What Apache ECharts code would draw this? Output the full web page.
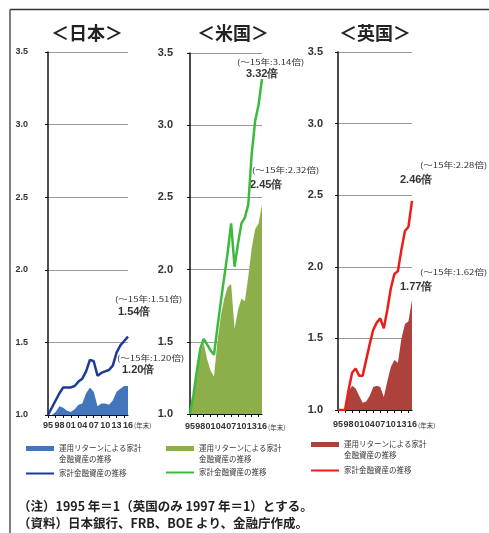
<!DOCTYPE html>
<html>
<head>
<meta charset="utf-8">
<script src="https://cdn.jsdelivr.net/npm/echarts@6/dist/echarts.min.js"></script>
<style>
    html, body { margin: 0; padding: 0; background: #fff; }
    #main { width: 489px; height: 533px; }
</style>
</head>
<body>
<div id="main"></div>
<script>
/*数据: 1995年=1 (英国は1997年=1)*/
var years = ['95','96','97','98','99','00','01','02','03','04','05','06','07','08','09','10','11','12','13','14','15','16'];
var yearTicks = ['95','98','01','04','07','10','13','16'];
var yTicks = [1.0, 1.5, 2.0, 2.5, 3.0, 3.5];

var jpReturn = [1.00,1.00,1.02,1.06,1.05,1.03,1.02,1.04,1.07,1.08,1.15,1.19,1.16,1.06,1.08,1.08,1.07,1.10,1.16,1.18,1.20,1.20];
var jpAssets = [1.00,1.05,1.10,1.15,1.19,1.19,1.19,1.20,1.23,1.25,1.30,1.38,1.37,1.27,1.29,1.30,1.31,1.34,1.43,1.48,1.51,1.54];

var usReturn = [1.00,1.12,1.28,1.42,1.49,1.38,1.30,1.26,1.50,1.68,1.80,1.88,1.90,1.59,1.72,1.80,1.78,1.95,2.15,2.28,2.32,2.45];
var usAssets = [1.00,1.13,1.30,1.45,1.52,1.48,1.44,1.41,1.60,1.78,1.95,2.12,2.32,2.02,2.18,2.32,2.36,2.45,2.80,3.03,3.14,3.32];

var ukReturn = [1.00,1.00,1.00,1.13,1.17,1.15,1.10,1.05,1.06,1.10,1.16,1.17,1.16,1.09,1.20,1.30,1.35,1.33,1.50,1.60,1.62,1.77];
var ukAssets = [1.00,1.00,1.00,1.14,1.26,1.29,1.24,1.24,1.35,1.46,1.56,1.61,1.64,1.57,1.70,1.85,1.95,1.97,2.12,2.25,2.28,2.46];

var titles = ['＜日本＞', '＜米国＞', '＜英国＞'];
var legendReturn = '運用リターンによる家計\n金融資産の推移';
var legendAssets = '家計金融資産の推移';
var jpNotes = ['(〜15年:1.51倍)', '1.54倍', '(〜15年:1.20倍)', '1.20倍'];
var usNotes = ['(〜15年:3.14倍)', '3.32倍', '(〜15年:2.32倍)', '2.45倍'];
var ukNotes = ['(〜15年:2.28倍)', '2.46倍', '(〜15年:1.62倍)', '1.77倍'];
var footNotes = ['（注）1995 年＝1（英国のみ 1997 年＝1）とする。', '（資料）日本銀行、FRB、BOE より、金融庁作成。'];

var jpFont = '"Noto Sans CJK JP", sans-serif';
var numFont = '"Liberation Sans", Arial, sans-serif';

var panels = [
    {
        key: 'jp', ret: jpReturn, tot: jpAssets, notes: jpNotes,
        grid: {left: 48, top: 52, width: 80, height: 363},
        areaColor: '#4176bb', lineColor: '#1c3a9a',
        ySize: 9, yMargin: 20, xMargin: 6,
        titleX: 87, legendLeft: 25, legendTop: 432, legendGap: 3,
        notePos: [[115, 299], [118, 312], [117, 358], [122, 370]],
        unitPos: [134, 426]
    },
    {
        key: 'us', ret: usReturn, tot: usAssets, notes: usNotes,
        grid: {left: 190, top: 53, width: 72, height: 361},
        areaColor: '#8caf4c', lineColor: '#3cba3c',
        ySize: 11, yMargin: 17, xMargin: 8,
        titleX: 233, legendLeft: 165, legendTop: 432, legendGap: 2,
        notePos: [[237, 62], [246, 74], [252, 170], [250, 185]],
        unitPos: [268, 428]
    },
    {
        key: 'uk', ret: ukReturn, tot: ukAssets, notes: ukNotes,
        grid: {left: 338, top: 52, width: 74, height: 358},
        areaColor: '#ad423d', lineColor: '#ee1b1b',
        ySize: 11, yMargin: 15, xMargin: 10,
        titleX: 375, legendLeft: 310, legendTop: 428, legendGap: 4,
        notePos: [[420, 165], [400, 180], [420, 272], [400, 287]],
        unitPos: [418, 426]
    }
];

var buildChart = function () {
    var box = document.getElementById('main');
    var myChart = echarts.init(box);

    var grids = [], xAxes = [], yAxes = [], series = [], legends = [], graphics = [];

    panels.forEach(function (p, i) {
        grids.push(p.grid);
        xAxes.push({
            type: 'category',
            gridIndex: i,
            data: years,
            boundaryGap: false,
            axisLine: {lineStyle: {color: '#111', width: 1.2}},
            axisTick: {show: true, interval: 1, length: 3, lineStyle: {color: '#111'}},
            axisLabel: {
                interval: function (idx, v) { return yearTicks.indexOf(v) >= 0; },
                fontSize: 9, fontWeight: 'bold', fontFamily: numFont, color: '#333',
                margin: p.xMargin
            },
            splitLine: {show: false}
        });
        yAxes.push({
            type: 'value',
            gridIndex: i,
            min: yTicks[0],
            max: yTicks[yTicks.length - 1],
            interval: yTicks[1] - yTicks[0],
            axisLine: {show: true, lineStyle: {color: '#111', width: 1.5}},
            axisTick: {show: true, length: 3, lineStyle: {color: '#111'}},
            axisLabel: {
                formatter: function (v) { return v.toFixed(1); },
                fontSize: p.ySize, fontWeight: 'bold', fontFamily: numFont, color: '#333',
                margin: p.yMargin
            },
            splitLine: {lineStyle: {color: '#999', width: 1}}
        });
        /*运用回报部分 (面积)*/
        series.push({
            name: p.key + 'Return',
            type: 'line',
            xAxisIndex: i, yAxisIndex: i,
            data: p.ret,
            symbol: 'none',
            lineStyle: {width: 0},
            itemStyle: {color: p.areaColor},
            areaStyle: {color: p.areaColor, opacity: 1},
            z: 2
        });
        /*家計金融資産 (线)*/
        series.push({
            name: p.key + 'Assets',
            type: 'line',
            xAxisIndex: i, yAxisIndex: i,
            data: p.tot,
            symbol: 'none',
            lineStyle: {width: 2.5, color: p.lineColor},
            itemStyle: {color: p.lineColor},
            z: 3
        });
        legends.push({
            left: p.legendLeft,
            top: p.legendTop,
            orient: 'vertical',
            padding: 0,
            itemGap: p.legendGap,
            itemWidth: 28,
            itemHeight: 5,
            selectedMode: false,
            data: [
                {name: p.key + 'Return', icon: 'rect'},
                {name: p.key + 'Assets', itemStyle: {opacity: 0}}
            ],
            /*空行で1行目をアイコンに揃える*/
            formatter: function (name) {
                return name.indexOf('Return') > 0 ? '\n' + legendReturn : legendAssets;
            },
            textStyle: {fontSize: 7.5, lineHeight: 11, fontFamily: jpFont, color: '#333'}
        });
        graphics.push({
            type: 'text', x: p.titleX, y: 33,
            style: {text: titles[i], fontSize: 18, fontWeight: 'bold', fontFamily: jpFont, fill: '#222',
                align: 'center', verticalAlign: 'middle'}
        });
        p.notes.forEach(function (t, j) {
            var big = j % 2 === 1;
            graphics.push({
                type: 'text', x: p.notePos[j][0], y: p.notePos[j][1],
                style: {
                    text: t, fontSize: big ? 11 : 7.5, fontWeight: big ? 'bold' : 'normal',
                    fontFamily: big ? numFont : jpFont, fill: '#333', verticalAlign: 'middle'
                },
                scaleX: big ? 1 : 1.28
            });
        });
        graphics.push({
            type: 'text', x: p.unitPos[0], y: p.unitPos[1],
            style: {text: '(年末)', fontSize: 6.5, fontFamily: jpFont, fill: '#333', verticalAlign: 'middle'}
        });
    });

    footNotes.forEach(function (t, j) {
        graphics.push({
            type: 'text', x: 18, y: 506 + j * 17,
            style: {text: t, fontSize: 12.5, fontWeight: 'bold', fontFamily: jpFont, fill: '#222', verticalAlign: 'middle'}
        });
    });
    /*外框 (上・左)*/
    graphics.push({type: 'line', shape: {x1: 10, y1: 9.5, x2: 489, y2: 9.5}, style: {stroke: '#333', lineWidth: 1.5}});
    graphics.push({type: 'line', shape: {x1: 10, y1: 9.5, x2: 10, y2: 533}, style: {stroke: '#555', lineWidth: 1.5}});

    var options = {
        animation: false,
        backgroundColor: '#fff',
        grid: grids,
        xAxis: xAxes,
        yAxis: yAxes,
        legend: legends,
        series: series,
        graphic: graphics
    };
    myChart.setOption(options);
};
buildChart();
</script>
</body>
</html>
